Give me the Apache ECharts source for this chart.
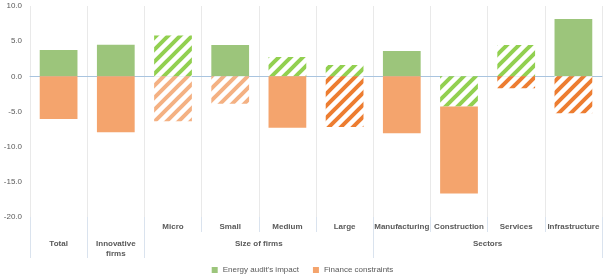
<!DOCTYPE html>
<html>
<head>
<meta charset="utf-8">
<script src="https://cdn.jsdelivr.net/npm/echarts@6/dist/echarts.min.js"></script>
<style>
html,body{margin:0;padding:0;background:#fff;}
#chart{width:605px;height:277px;}
</style>
</head>
<body>
<div id="chart"></div>
<script>
// ---- data ----
const categories = ['Total','Innovative firms','Micro','Small','Medium','Large','Manufacturing','Construction','Services','Infrastructure'];
const categoryGroup = ['', '', 'Size of firms','Size of firms','Size of firms','Size of firms','Sectors','Sectors','Sectors','Sectors'];
const seriesNames = ["Energy audit's impact", 'Finance constraints'];
const energyAudit = [3.75, 4.5, 5.8, 4.45, 2.75, 1.6, 3.6, -4.3, 4.45, 8.15];
const financeConstraints = [-6.05, -7.95, -6.4, -3.9, -7.3, -7.2, -8.1, -12.35, -1.7, -5.25];
const energyStyle = ['solid','solid','hatch','solid','hatch','hatch','solid','hatch','hatch','solid'];
const financeStyle = ['solid','solid','hatchLight','hatchLight','solid','hatchDark','solid','solid','hatchDark','hatchDark'];
const yTicks = { min: -20, max: 10, step: 5 };

// ---- styles ----
const TXT = '#595959';
const FONT = '"Liberation Sans", Arial, sans-serif';
const colors = {
  greenSolid: '#9cc57b', greenHatch: '#92d050',
  orangeSolid: '#f4a46d', orangeLight: '#f4b183', orangeDark: '#ed7d31'
};
function hatch(color) {
  const s = 12;
  const c = document.createElement('canvas'); c.width = s; c.height = s;
  const g = c.getContext('2d');
  g.fillStyle = '#fff'; g.fillRect(0, 0, s, s);
  g.strokeStyle = color; g.lineWidth = 4;
  g.beginPath();
  g.moveTo(-3, s + 3); g.lineTo(s + 3, -3);
  g.moveTo(-3, 3); g.lineTo(3, -3);
  g.moveTo(s - 3, s + 3); g.lineTo(s + 3, s - 3);
  g.stroke();
  return { image: c, repeat: 'repeat' };
}
const styleMap = {
  solidG: colors.greenSolid,
  hatchG: hatch(colors.greenHatch),
  solidO: colors.orangeSolid,
  hatchLight: hatch(colors.orangeLight),
  hatchDark: hatch(colors.orangeDark)
};

// level-1 labels: only categories inside a group
const level1Labels = categories.map((c, i) => categoryGroup[i] ? c : '');
// level-2 axis: 2*n+1 points at half-category resolution
const n = categories.length;
const level2Labels = new Array(2 * n + 1).fill('');
const level2Ticks = [0];
(function () {
  let i = 0;
  while (i < n) {
    let j = i;
    if (categoryGroup[i]) { while (j + 1 < n && categoryGroup[j + 1] === categoryGroup[i]) j++; }
    const label = categoryGroup[i] ? categoryGroup[i] : categories[i].replace('Innovative firms', 'Innovative\nfirms');
    level2Labels[i + j + 1] = label;
    level2Ticks.push(2 * (j + 1));
    i = j + 1;
  }
})();
const level2Data = level2Labels.map((_, i) => String(i));

const chart = echarts.init(document.getElementById('chart'), null, { renderer: 'canvas' });
chart.setOption({
  animation: false,
  backgroundColor: '#fff',
  textStyle: { fontFamily: FONT },
  grid: { left: 30, right: 2, top: 6, bottom: 60, containLabel: false },
  legend: {
    data: seriesNames,
    left: 'center', top: 261,
    icon: 'rect', itemWidth: 6, itemHeight: 6, itemGap: 14,
    textStyle: { fontSize: 8, color: TXT, fontFamily: FONT }
  },
  xAxis: [
    {
      type: 'category', data: categories,
      axisLine: { show: true, onZero: true, lineStyle: { color: '#a9c4df', width: 1 } },
      axisTick: { show: false }, axisLabel: { show: false }, splitLine: { show: false }
    },
    {
      type: 'category', data: categories, position: 'bottom',
      axisLine: { show: false, onZero: false },
      axisTick: { show: true, interval: 0, length: 15, lineStyle: { color: '#dae3ee' } },
      splitLine: { show: true, interval: 0, lineStyle: { color: '#e9e9e9', width: 1 } },
      axisLabel: {
        interval: 0, margin: 6, fontSize: 8, fontWeight: 'bold', color: TXT, fontFamily: FONT,
        formatter: (v, i) => level1Labels[i]
      }
    },
    {
      type: 'category', data: level2Data, position: 'bottom', boundaryGap: false,
      axisLine: { show: false, onZero: false },
      axisTick: { show: true, length: 41, interval: (i) => level2Ticks.includes(i), lineStyle: { color: '#dae3ee' } },
      splitLine: { show: false },
      axisLabel: {
        interval: 0, margin: 22, fontSize: 8, fontWeight: 'bold', color: TXT, fontFamily: FONT, lineHeight: 10,
        formatter: (v, i) => level2Labels[i]
      }
    }
  ],
  yAxis: {
    type: 'value', min: yTicks.min, max: yTicks.max, interval: yTicks.step,
    axisLine: { show: false }, axisTick: { show: false }, splitLine: { show: false },
    axisLabel: { fontSize: 8, color: TXT, margin: 8, fontFamily: FONT, formatter: (v) => v.toFixed(1) }
  },
  series: [
    {
      name: seriesNames[0], type: 'bar', stack: 'total', xAxisIndex: 0, barWidth: '66%',
      itemStyle: { color: colors.greenSolid },
      data: energyAudit.map((v, i) => ({
        value: v,
        itemStyle: { color: energyStyle[i] === 'solid' ? styleMap.solidG : styleMap.hatchG }
      }))
    },
    {
      name: seriesNames[1], type: 'bar', stack: 'total', xAxisIndex: 0, barWidth: '66%',
      itemStyle: { color: colors.orangeSolid },
      data: financeConstraints.map((v, i) => ({
        value: v,
        itemStyle: { color: financeStyle[i] === 'solid' ? styleMap.solidO : styleMap[financeStyle[i]] }
      }))
    }
  ]
});
</script>
</body>
</html>
